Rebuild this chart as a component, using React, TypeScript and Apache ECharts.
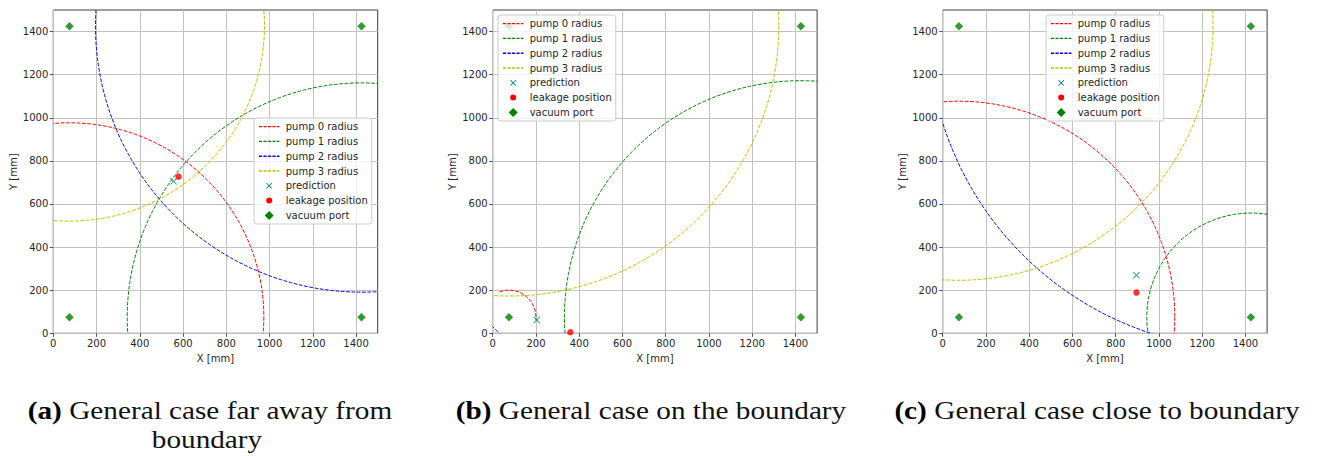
import React, { useEffect, useRef } from 'react';
import * as echarts from 'echarts';

// ---------- data ----------
const TICKS = [0, 200, 400, 600, 800, 1000, 1200, 1400];
const AXIS_MIN = 0;
const AXIS_MAX = 1500;

const PUMP_NAMES = ['pump 0 radius', 'pump 1 radius', 'pump 2 radius', 'pump 3 radius'];
const PUMP_COLORS = ['#ff0000', '#008000', '#0000ff', '#bfbf00'];
const PUMP_CENTERS = [[75, 75], [1425, 75], [1425, 1425], [75, 1425]];
const VACUUM_PORTS = [[75, 75], [1425, 75], [75, 1425], [1425, 1425]];

// radius of each pump circle per case (mm)
const RADII_A = [900, 1085, 1232, 903];
const RADII_B = [125, 1095, 1994, 1250];
const RADII_C = [1000, 482, 1496, 1177];
// drawn arc span per pump (degrees, counter-clockwise from +x)
const ARCS_A = [[0, 360], [0, 360], [0, 360], [0, 360]];
const ARCS_B = [[-6, 110], [0, 360], [0, 360], [0, 360]];
const ARCS_C = [[0, 360], [0, 360], [0, 360], [0, 360]];

const PRED_A = [556, 705];
const LEAK_A = [579, 727];
const PRED_B = [204, 62];
const LEAK_B = [359, 5];
const PRED_C = [896, 269];
const LEAK_C = [896, 189];

const CAPTION_A1 = 'General case far away from';
const CAPTION_A2 = 'boundary';
const CAPTION_B = 'General case on the boundary';
const CAPTION_C = 'General case close to boundary';

// ---------- styling ----------
const FONT = 'DejaVu Sans';
const SERIF = 'Liberation Serif';
const TXT = '#262626';
const GRID_LEFTS = [53.3, 492.7, 942.7];
const GRID_TOP = 10;
const GRID_W = 324.4;
const GRID_H = 323.3;

const X_PATH = 'path://M1,0L5,4L9,0L10,1L6,5L10,9L9,10L5,6L1,10L0,9L4,5L0,1Z';
const ICON_BOX = 'M0,0M23,10';
const ICON_DASH =
  'path://' + ICON_BOX +
  'M1.2,4.3H4.4V5.7H1.2Z M5.7,4.3H8.9V5.7H5.7Z M10.2,4.3H13.4V5.7H10.2Z M14.7,4.3H17.9V5.7H14.7Z M19.2,4.3H21.8V5.7H19.2Z';
const ICON_X =
  'path://' + ICON_BOX +
  'M9.1,2L11.5,4.4L13.9,2L14.5,2.6L12.1,5L14.5,7.4L13.9,8L11.5,5.6L9.1,8L8.5,7.4L10.9,5L8.5,2.6Z';
const ICON_CIRCLE = 'path://' + ICON_BOX + 'M8.5,5A3,3 0 1,0 14.5,5A3,3 0 1,0 8.5,5Z';
const ICON_DIAMOND = 'path://' + ICON_BOX + 'M11.5,0.5L16,5L11.5,9.5L7,5Z';

const PRED_COLOR = '#008080';
const LEAK_COLOR = '#ff0000';
const PORT_COLOR = '#008000';

function legendItem(name: string, icon: string, color: string) {
  return {
    name,
    icon,
    itemStyle: { color, borderColor: color, borderWidth: 0, opacity: 1 },
    lineStyle: { width: 0, opacity: 0 },
  };
}

function buildLegend(left: number, top: number) {
  const data: any[] = PUMP_NAMES.map((n, i) => legendItem(n, ICON_DASH, PUMP_COLORS[i]));
  data.push(legendItem('prediction', ICON_X, PRED_COLOR));
  data.push(legendItem('leakage position', ICON_CIRCLE, LEAK_COLOR));
  data.push(legendItem('vacuum port', ICON_DIAMOND, PORT_COLOR));
  return {
    left,
    top,
    orient: 'vertical',
    align: 'left',
    selectedMode: false,
    itemWidth: 23,
    itemHeight: 10,
    itemGap: 4.8,
    padding: [3.6, 4, 3.6, 3.7],
    backgroundColor: 'rgba(255,255,255,0.8)',
    borderColor: '#cccccc',
    borderWidth: 1,
    borderRadius: 3,
    itemStyle: { borderWidth: 0 },
    lineStyle: { width: 0 },
    textStyle: { fontFamily: FONT, fontSize: 10, color: TXT },
    data,
  };
}

function buildCase(idx: number, radii: number[], arcs: number[][], pred: number[], leak: number[]) {
  const series: any[] = [];
  PUMP_NAMES.forEach((name, i) => {
    const color = PUMP_COLORS[i];
    series.push({
      type: 'custom',
      name,
      xAxisIndex: idx,
      yAxisIndex: idx,
      itemStyle: { color, borderColor: color, borderWidth: 0 },
      data: [[PUMP_CENTERS[i][0], PUMP_CENTERS[i][1], radii[i], arcs[i][0], arcs[i][1]]],
      renderItem: (params: any, api: any) => {
        const c = api.coord([api.value(0), api.value(1)]);
        const s = api.size([api.value(2), api.value(2)]);
        const r = (s[0] + s[1]) / 2;
        const a0 = api.value(3);
        const a1 = api.value(4);
        const cs = params.coordSys;
        return {
          type: 'arc',
          shape: {
            cx: c[0],
            cy: c[1],
            r,
            startAngle: (-a1 * Math.PI) / 180,
            endAngle: (-a0 * Math.PI) / 180,
            clockwise: true,
          },
          style: { fill: 'none', stroke: color, lineWidth: 1, lineDash: [3.7, 1.6] },
          clipPath: { type: 'rect', shape: { x: cs.x, y: cs.y, width: cs.width, height: cs.height } },
          silent: true,
        };
      },
    });
  });
  series.push({
    type: 'scatter',
    name: 'prediction',
    xAxisIndex: idx,
    yAxisIndex: idx,
    symbol: X_PATH,
    symbolSize: 7,
    itemStyle: { color: PRED_COLOR },
    data: [pred],
    silent: true,
  });
  series.push({
    type: 'scatter',
    name: 'leakage position',
    xAxisIndex: idx,
    yAxisIndex: idx,
    symbol: 'circle',
    symbolSize: 6.5,
    itemStyle: { color: LEAK_COLOR },
    data: [leak],
    silent: true,
  });
  series.push({
    type: 'scatter',
    name: 'vacuum port',
    xAxisIndex: idx,
    yAxisIndex: idx,
    symbol: 'diamond',
    symbolSize: 8.5,
    itemStyle: { color: PORT_COLOR },
    data: VACUUM_PORTS,
    silent: true,
  });
  return series;
}

function axisCommon(idx: number, name: string, gap: number) {
  return {
    gridIndex: idx,
    type: 'value',
    min: AXIS_MIN,
    max: AXIS_MAX,
    interval: 200,
    name,
    nameLocation: 'middle',
    nameGap: gap,
    nameTextStyle: { fontFamily: FONT, fontSize: 10, color: TXT },
    axisLine: { show: false },
    axisTick: {
      show: true,
      inside: false,
      length: 3.5,
      lineStyle: { color: TXT, width: 0.8 },
      customValues: TICKS,
    },
    axisLabel: {
      fontFamily: FONT,
      fontSize: 10,
      color: TXT,
      margin: 5,
      customValues: TICKS,
      formatter: (v: number) => String(v),
    },
    splitLine: { show: true, lineStyle: { color: '#c2c2c2', width: 1 } },
  };
}

export default function App() {
  const ref = useRef<HTMLDivElement>(null);
  useEffect(() => {
    if (!ref.current) return;
    const chart = echarts.init(ref.current, undefined, { renderer: 'svg' });

    const grids = GRID_LEFTS.map((left) => ({
      left,
      top: GRID_TOP,
      width: GRID_W,
      height: GRID_H,
      show: true,
      borderColor: '#3c3c3c',
      borderWidth: 1,
      backgroundColor: 'transparent',
      containLabel: false,
    }));

    const xAxes = [0, 1, 2].map((i) => axisCommon(i, 'X [mm]', 17));
    const yAxes = [0, 1, 2].map((i) => ({ ...axisCommon(i, 'Y [mm]', 35), nameRotate: 90 }));

    const series = [
      ...buildCase(0, RADII_A, ARCS_A, PRED_A, LEAK_A),
      ...buildCase(1, RADII_B, ARCS_B, PRED_B, LEAK_B),
      ...buildCase(2, RADII_C, ARCS_C, PRED_C, LEAK_C),
    ];

    const capStyle = (text: string) => ({
      text,
      x: 0,
      y: 0,
      fontFamily: SERIF,
      fontSize: 25,
      fill: '#000',
      align: 'center',
      verticalAlign: 'middle',
      textAlign: 'center',
      textVerticalAlign: 'middle',
      rich: {
        b: { fontFamily: SERIF, fontSize: 25, fontWeight: 'bold', fill: '#000', color: '#000' },
        n: { fontFamily: SERIF, fontSize: 25, fill: '#111', color: '#111' },
      },
    });
    const SX = 1.17;

    const option: any = {
      animation: false,
      backgroundColor: '#ffffff',
      grid: grids,
      xAxis: xAxes,
      yAxis: yAxes,
      legend: [buildLegend(254, 118), buildLegend(498, 15), buildLegend(1046, 15)],
      series,
      graphic: [
        { type: 'text', x: 210, y: 411, scaleX: SX, style: capStyle('{b|(a)}{n| ' + CAPTION_A1 + '}') },
        { type: 'text', x: 207, y: 440, scaleX: SX, style: capStyle('{n|' + CAPTION_A2 + '}') },
        { type: 'text', x: 651, y: 411, scaleX: SX, style: capStyle('{b|(b)}{n| ' + CAPTION_B + '}') },
        { type: 'text', x: 1097, y: 411, scaleX: SX, style: capStyle('{b|(c)}{n| ' + CAPTION_C + '}') },
      ],
    };
    chart.setOption(option);
    return () => chart.dispose();
  }, []);

  return (
    <div
      ref={ref}
      style={{ position: 'fixed', left: 0, top: 0, width: 1320, height: 456, background: '#fff' }}
    />
  );
}
